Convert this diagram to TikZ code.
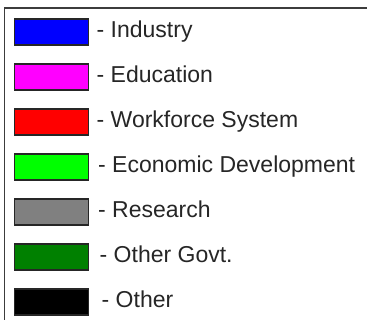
\documentclass[tikz,border=0pt]{standalone}
\usepackage{fontspec}
\setmainfont{Liberation Sans}
\definecolor{ind}{RGB}{0,0,255}
\definecolor{edu}{RGB}{255,0,255}
\definecolor{wfs}{RGB}{255,0,0}
\definecolor{eco}{RGB}{0,255,0}
\definecolor{res}{RGB}{128,128,128}
\definecolor{ogv}{RGB}{0,128,0}
\definecolor{oth}{RGB}{0,0,0}
\definecolor{frame}{RGB}{60,60,60}
\begin{document}
\begin{tikzpicture}[x=1pt,y=-1pt,
  swatch/.style={draw=black!85,line width=1.5pt,minimum width=74pt,minimum height=26pt,inner sep=0pt,anchor=north west},
  lbl/.style={anchor=base west,inner sep=0pt,font=\fontsize{23}{27}\selectfont,text=black!85}]
\useasboundingbox (0,0) rectangle (367,320);
\fill[white] (0,0) rectangle (367,320);
\draw[frame,line width=1.6pt] (4.3,320) -- (4.3,7.8) -- (367,7.8);
\node[swatch,fill=ind] (s1) at (13.5,18.5) {};
\node[swatch,fill=edu] (s2) at (13.5,63.5) {};
\node[swatch,fill=wfs] (s3) at (13.5,108.5) {};
\node[swatch,fill=eco] (s4) at (13.5,153.5) {};
\node[swatch,fill=res] (s5) at (13.5,198.5) {};
\node[swatch,fill=ogv] (s6) at (13.5,243.5) {};
\node[swatch,fill=oth] (s7) at (13.5,288.5) {};
\node[lbl] (l1) at (96.5,38) {- Industry};
\node[lbl] (l2) at (96.5,83) {- Education};
\node[lbl] (l3) at (96.5,128) {- Workforce System};
\node[lbl] (l4) at (98,173) {- Economic Development};
\node[lbl] (l5) at (98,218) {- Research};
\node[lbl] (l6) at (99.5,263) {- Other Govt.};
\node[lbl] (l7) at (101.5,308) {- Other};
\end{tikzpicture}
\end{document}
